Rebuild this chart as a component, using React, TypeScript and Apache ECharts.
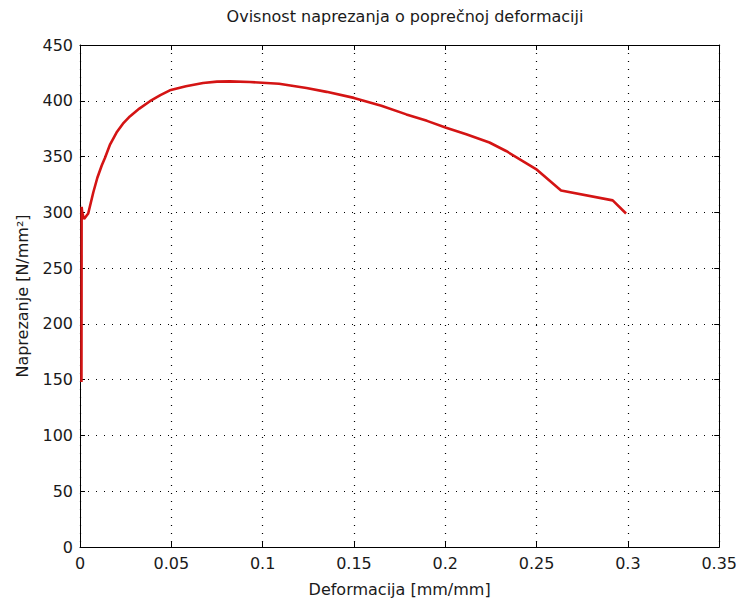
import React, { useEffect, useRef } from "react";
import * as echarts from "echarts";

const strainValues = [0.0008, 0.0009, 0.0012, 0.0022, 0.0045, 0.0073, 0.0095, 0.0119, 0.0137, 0.0165, 0.02, 0.0235, 0.0273, 0.0325, 0.0383, 0.044, 0.0492, 0.058, 0.0674, 0.075, 0.082, 0.093, 0.109, 0.124, 0.135, 0.15, 0.165, 0.1787, 0.19, 0.2005, 0.2115, 0.2242, 0.2333, 0.2497, 0.2634, 0.2917, 0.299];
const stressValues = [148, 305, 300, 294, 299, 318, 331, 342, 349, 361, 371.5, 379.5, 386, 393, 399.6, 405, 409.4, 413, 416, 417.2, 417.4, 416.8, 415.3, 411.5, 408, 402.6, 395.5, 387.8, 382, 375.9, 370, 362.6, 355, 338.8, 319.5, 310.7, 299];
const titleText = "Ovisnost naprezanja o poprečnoj deformaciji";
const xName = "Deformacija [mm/mm]";
const yName = "Naprezanje [N/mm²]";

export default function App() {
  const ref = useRef<HTMLDivElement>(null);
  useEffect(() => {
    if (!ref.current) return;
    const chart = echarts.init(ref.current, null, { renderer: "svg" });
    const font = "DejaVu Sans";
    const fs = 16;
    const txt = "#1a1a1a";
    const data = strainValues.map((x, i) => [x, stressValues[i]]);
    const tick = { show: true, inside: true, length: 5, lineStyle: { color: "#000", width: 1 } };
    chart.setOption({
      animation: false,
      backgroundColor: "#fff",
      textStyle: { fontFamily: font },
      title: {
        text: titleText,
        left: 400,
        top: 3,
        textAlign: "center",
        textStyle: { fontFamily: font, fontSize: fs, fontWeight: "normal", color: txt },
      },
      grid: { left: 80, right: 20, top: 45, bottom: 51, show: false },
      xAxis: [
        {
          type: "value",
          min: 0,
          max: 0.35,
          interval: 0.05,
          position: "bottom",
          name: xName,
          nameLocation: "middle",
          nameGap: 34,
          nameTextStyle: { fontFamily: font, fontSize: fs, color: txt },
          axisLine: { show: true, onZero: false, lineStyle: { color: "#000", width: 1 } },
          axisTick: tick,
          axisLabel: { fontFamily: font, fontSize: fs, color: txt, margin: 8 },
          splitLine: { show: true, lineStyle: { color: "#000", width: 1.2, type: [1, 7] } },
        },
        {
          type: "value",
          min: 0,
          max: 0.35,
          interval: 0.05,
          position: "top",
          axisLine: { show: true, onZero: false, lineStyle: { color: "#000", width: 1 } },
          axisTick: tick,
          axisLabel: { show: false },
          splitLine: { show: false },
        },
      ],
      yAxis: [
        {
          type: "value",
          min: 0,
          max: 450,
          interval: 50,
          position: "left",
          name: yName,
          nameLocation: "middle",
          nameGap: 50,
          nameTextStyle: { fontFamily: font, fontSize: fs, color: txt },
          axisLine: { show: true, onZero: false, lineStyle: { color: "#000", width: 1 } },
          axisTick: tick,
          axisLabel: { fontFamily: font, fontSize: fs, color: txt, margin: 7 },
          splitLine: { show: true, lineStyle: { color: "#000", width: 1.2, type: [1, 7] } },
        },
        {
          type: "value",
          min: 0,
          max: 450,
          interval: 50,
          position: "right",
          axisLine: { show: true, onZero: false, lineStyle: { color: "#000", width: 1 } },
          axisTick: tick,
          axisLabel: { show: false },
          splitLine: { show: false },
        },
      ],
      series: [
        {
          type: "line",
          xAxisIndex: 0,
          yAxisIndex: 0,
          data,
          showSymbol: false,
          smooth: false,
          lineStyle: { color: "#d41414", width: 2.6 },
        },
      ],
    });
    return () => chart.dispose();
  }, []);
  return (
    <div
      ref={ref}
      style={{ position: "fixed", left: 0, top: 0, width: 740, height: 602, background: "#fff" }}
    />
  );
}
